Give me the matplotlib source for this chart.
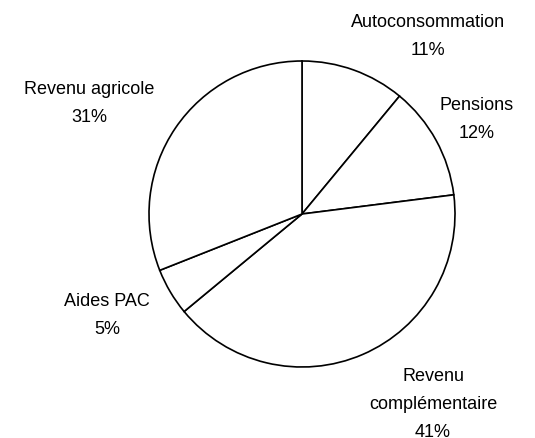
import matplotlib
matplotlib.use("Agg")
import matplotlib.pyplot as plt

categories = ["Autoconsommation", "Pensions", "Revenu\ncomplémentaire", "Aides PAC", "Revenu agricole"]
values = [11, 12, 41, 5, 31]

# label placement (figure pixel coords, top-left origin) for each category line block
label_pos = [(428, 22), (477, 106), (433, 377), (107, 302), (89, 90)]
line_gap = 28

W, H = 535, 439
fig = plt.figure(figsize=(W / 100, H / 100), dpi=100)
ax = fig.add_axes([0, 0, 1, 1])

ax.pie(values, startangle=90, counterclock=False,
       center=(302, H - 215), radius=153,
       colors=["white"] * len(values),
       wedgeprops=dict(edgecolor="black", linewidth=1.2))
ax.set_xlim(0, W)
ax.set_ylim(0, H)
ax.set_aspect("equal")
ax.axis("off")

for cat, v, (px, py) in zip(categories, values, label_pos):
    lines = cat.split("\n") + [f"{v}%"]
    for i, ln in enumerate(lines):
        ax.text(px, H - (py + i * line_gap), ln, ha="center", va="center",
                fontsize=13, family="Liberation Sans", color="black")

fig.savefig("out.png", dpi=100, facecolor="white")
